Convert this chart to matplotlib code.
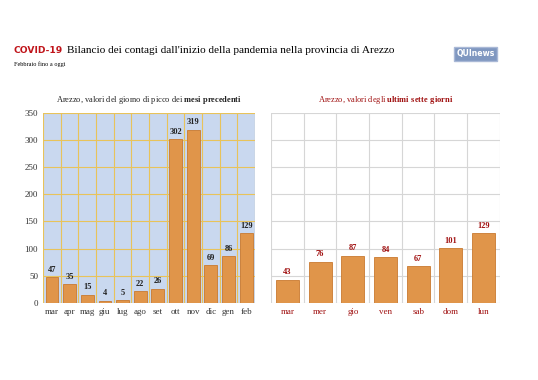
import matplotlib.pyplot as plt
import numpy as np

# dati: picco mensile e ultimi sette giorni
mesi = ["mar", "apr", "mag", "giu", "lug", "ago", "set", "ott", "nov", "dic", "gen", "feb"]
picco_mesi = [47, 35, 15, 4, 5, 22, 26, 302, 319, 69, 86, 129]
giorni = ["mar", "mer", "gio", "ven", "sab", "dom", "lun"]
ultimi_giorni = [43, 76, 87, 84, 67, 101, 129]
y_ticks = [0, 50, 100, 150, 200, 250, 300, 350]

serif = "Liberation Serif"
bar_color = "#e0954a"
bar_edge = "#c97a30"
dark_red = "#a01010"

plt.rcParams["mathtext.fontset"] = "custom"
plt.rcParams["mathtext.rm"] = "Liberation Serif"
plt.rcParams["mathtext.bf"] = "Liberation Serif:bold"

fig = plt.figure(figsize=(5.38, 3.8), dpi=100)

# titolo
fig.text(0.026, 0.868, "COVID-19", fontsize=6.6, fontweight="bold", color="#c0141a",
         family="DejaVu Sans", va="center")
fig.text(0.124, 0.868, "Bilancio dei contagi dall'inizio della pandemia nella provincia di Arezzo",
         fontsize=8.1, family=serif, color="black", va="center")
fig.text(0.026, 0.832, "Febbraio fino a oggi", fontsize=4.5, family=serif, va="center")
fig.text(0.848, 0.858, "QUInews", fontsize=5.6, fontweight="bold", color="white",
         family="DejaVu Sans", va="center",
         bbox=dict(boxstyle="square,pad=0.3", facecolor="#7f97c0", edgecolor="#a9b8d6"))

# grafico sinistro
ax1 = fig.add_axes([0.080, 0.203, 0.394, 0.500])
x1 = np.arange(len(mesi))
ax1.set_facecolor("#c9d8ef")
ax1.bar(x1, picco_mesi, width=0.72, color=bar_color, edgecolor=bar_edge, linewidth=0.6, zorder=3)
for xi, v in zip(x1, picco_mesi):
    ax1.text(xi, v + 6, str(v), ha="center", va="bottom", fontsize=6, fontweight="bold",
             family=serif, color="#222222", zorder=4)
ax1.set_xlim(-0.5, len(mesi) - 0.5)
ax1.set_ylim(0, 350)
ax1.set_yticks(y_ticks)
ax1.set_xticks(x1)
ax1.set_xticklabels(mesi)
ax1.set_xticks(np.arange(-0.5, len(mesi), 1), minor=True)
ax1.grid(axis="y", color="#e8c35a", linewidth=0.8, zorder=1)
ax1.grid(axis="x", which="minor", color="#e8c35a", linewidth=0.8, zorder=1)
ax1.grid(axis="x", which="major", visible=False)
ax1.tick_params(axis="both", which="both", length=0, labelsize=6.5, colors="#333333")
for lab in ax1.get_xticklabels() + ax1.get_yticklabels():
    lab.set_family(serif)
for s in ax1.spines.values():
    s.set_visible(False)
ax1.set_title("Arezzo, valori del giorno di picco dei $\\bf{mesi\\ precedenti}$",
              fontsize=6, family=serif, pad=8, color="#222222")

# grafico destro
ax2 = fig.add_axes([0.504, 0.203, 0.425, 0.500])
x2 = np.arange(len(giorni))
ax2.bar(x2, ultimi_giorni, width=0.7, color=bar_color, edgecolor=bar_edge, linewidth=0.6, zorder=3)
for xi, v in zip(x2, ultimi_giorni):
    ax2.text(xi, v + 6, str(v), ha="center", va="bottom", fontsize=6, fontweight="bold",
             family=serif, color=dark_red, zorder=4)
ax2.set_xlim(-0.5, len(giorni) - 0.5)
ax2.set_ylim(0, 350)
ax2.set_yticks(y_ticks)
ax2.set_xticks(x2)
ax2.set_xticklabels(giorni)
ax2.set_xticks(np.arange(-0.5, len(giorni), 1), minor=True)
ax2.grid(axis="y", color="#d6d6d6", linewidth=0.8, zorder=1)
ax2.grid(axis="x", which="minor", color="#d6d6d6", linewidth=0.8, zorder=1)
ax2.grid(axis="x", which="major", visible=False)
ax2.tick_params(axis="both", which="both", length=0, labelsize=6.5, colors=dark_red)
ax2.tick_params(axis="y", labelleft=False)
for lab in ax2.get_xticklabels():
    lab.set_family(serif)
for s in ax2.spines.values():
    s.set_visible(False)
ax2.set_title("Arezzo, valori degli $\\bf{ultimi\\ sette\\ giorni}$",
              fontsize=6, family=serif, pad=8, color=dark_red)

fig.savefig("out.png", dpi=100)
